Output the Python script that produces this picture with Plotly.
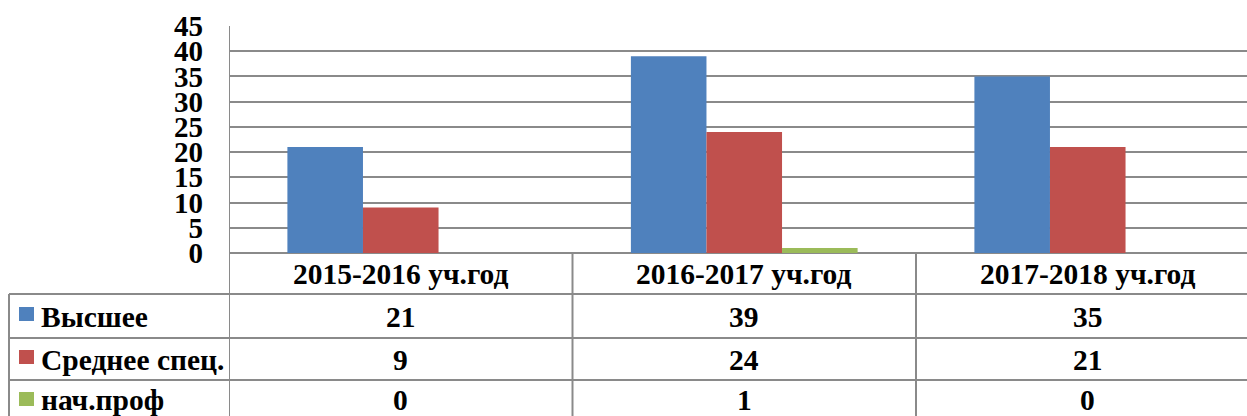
import plotly.graph_objects as go

categories = ["2015-2016 уч.год", "2016-2017 уч.год", "2017-2018 уч.год"]
series_names = ["Высшее", "Среднее спец.", "нач.проф"]
vysshee = [21, 39, 35]
srednee = [9, 24, 21]
nach_prof = [0, 1, 0]
y_ticks = [0, 5, 10, 15, 20, 25, 30, 35, 40, 45]

series_values = [vysshee, srednee, nach_prof]
colors = ["#4F81BD", "#C0504D", "#9BBB59"]

W, H = 1247, 416
L, T, B = 229, 26, 163
plot_h = H - T - B          # 227
plot_w = W - L              # 1018
cat_px = 343.5

def py(p):  # pixel y -> paper y
    return (H - B - p) / plot_h

def px(p):  # pixel x -> paper x
    return (p - L) / plot_w

FONT = "Liberation Serif, Times New Roman, serif"
GRID = "#8a8a8a"

fig = go.Figure()
for name, vals, col in zip(series_names, series_values, colors):
    fig.add_trace(go.Bar(x=categories, y=vals, name=name, marker=dict(color=col, line=dict(width=0))))

shapes = []
annotations = []
bottom = -0.8
shapes.append(dict(type="line", xref="x", yref="paper", x0=-0.5, x1=-0.5, y0=1, y1=bottom,
                   line=dict(color=GRID, width=2)))
for xv in [0.5, 1.5]:
    shapes.append(dict(type="line", xref="x", yref="paper", x0=xv, x1=xv, y0=0, y1=bottom,
                       line=dict(color=GRID, width=2)))
left_edge = px(9)
shapes.append(dict(type="line", xref="paper", yref="paper", x0=left_edge, x1=left_edge,
                   y0=py(294), y1=bottom, line=dict(color=GRID, width=2)))
for p in [294, 338, 380]:
    shapes.append(dict(type="line", xref="paper", yref="paper", x0=left_edge, x1=1,
                       y0=py(p), y1=py(p), line=dict(color=GRID, width=2)))

txt_font = dict(family=FONT, size=29.5, color="black", weight="bold")
for c in categories:
    annotations.append(dict(x=c, y=py(274), xref="x", yref="paper", text=c,
                            showarrow=False, font=txt_font,
                            xanchor="center", yanchor="middle"))
row_centers = [317, 359.5, 399.5]
key_centers = [314, 357, 399]
for i, (name, vals, col) in enumerate(zip(series_names, series_values, colors)):
    annotations.append(dict(x=px(39), y=py(row_centers[i]), xref="paper", yref="paper",
                            text=name, showarrow=False, font=txt_font,
                            xanchor="left", yanchor="middle"))
    shapes.append(dict(type="rect", xref="paper", yref="paper", x0=px(19), x1=px(34),
                       y0=py(key_centers[i] - 7), y1=py(key_centers[i] + 7),
                       fillcolor=col, line=dict(width=0)))
    for c, v in zip(categories, vals):
        annotations.append(dict(x=c, y=py(row_centers[i]), xref="x", yref="paper",
                                text=str(v), showarrow=False, font=txt_font,
                                xanchor="center", yanchor="middle"))

fig.update_layout(
    width=W, height=H,
    margin=dict(l=L, r=0, t=T, b=B, pad=0),
    paper_bgcolor="white", plot_bgcolor="white",
    barmode="group", bargap=0.34, bargroupgap=0,
    showlegend=False,
    shapes=shapes, annotations=annotations,
    xaxis=dict(range=[-0.5, -0.5 + plot_w / cat_px], showticklabels=False, showgrid=False,
               zeroline=False, showline=False, ticks=""),
    yaxis=dict(range=[0, 45], tickvals=y_ticks, ticktext=[str(v) for v in y_ticks],
               showgrid=True, gridcolor=GRID, gridwidth=2, zeroline=True, zerolinecolor=GRID,
               zerolinewidth=2, showline=False, ticks="", ticklabelstandoff=25,
               tickfont=dict(family=FONT, size=29, color="black", weight="bold")),
)

fig.write_html("out.html")
